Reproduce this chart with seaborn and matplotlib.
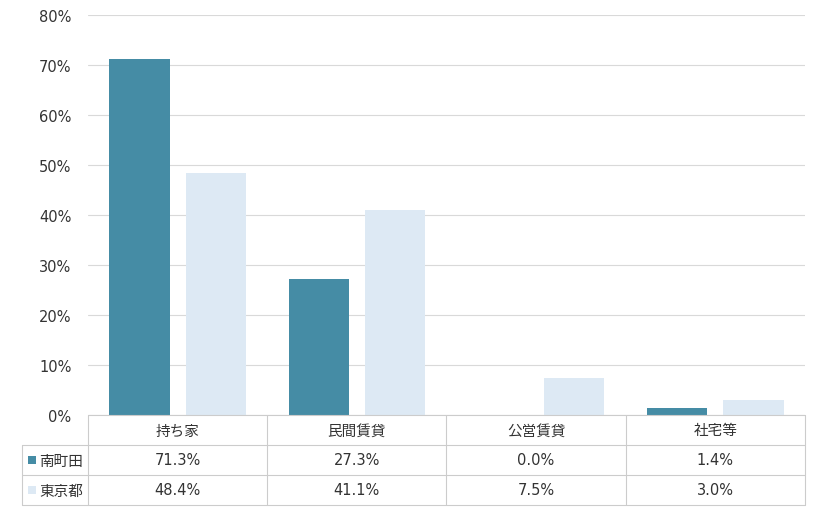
import matplotlib
matplotlib.use('Agg')
import matplotlib.pyplot as plt
import matplotlib.transforms as mtransforms
from matplotlib.patches import Rectangle
import pandas as pd
import seaborn as sns

categories = ['持ち家', '民間賃貸', '公営賃貸', '社宅等']
areas = ['南町田', '東京都']
minamimachida = [71.3, 27.3, 0.0, 1.4]
tokyo = [48.4, 41.1, 7.5, 3.0]
colors = ['#458CA5', '#DDE9F4']

df = pd.DataFrame({
    'category': categories * 2,
    'area': [areas[0]] * 4 + [areas[1]] * 4,
    'value': minamimachida + tokyo,
})

sns.set_style('white')
# Verdana-like digits, CJK glyphs from Noto
plt.rcParams['font.family'] = ['DejaVu Sans', 'Noto Sans CJK JP']

fig = plt.figure(figsize=(8.2, 5.1), dpi=100)
ax = fig.add_axes([88 / 820, 1 - 416 / 510, 717 / 820, 400 / 510])

sns.barplot(data=df, x='category', y='value', hue='area', palette=colors,
            width=0.85, gap=0.21, ax=ax, legend=False, saturation=1,
            linewidth=0)

ax.set_xlim(-0.5, 3.5)
ax.set_ylim(0, 80)
ax.set_yticks(range(0, 81, 10))
ax.set_yticklabels([f'{v}%' for v in range(0, 81, 10)], fontsize=10.5, color='#333333')
ax.tick_params(axis='y', length=0, pad=12)
ax.set_xticks([])
ax.set_xlabel('')
ax.set_ylabel('')
ax.yaxis.grid(True, color='#D9D9D9', linewidth=0.8)
ax.set_axisbelow(True)
for s in ax.spines.values():
    s.set_visible(False)

# data table under the chart
trans = mtransforms.blended_transform_factory(ax.transData, ax.transAxes)
line_kw = dict(color='#CCCCCC', linewidth=0.8, transform=trans, clip_on=False)
row_h = 0.075
left_x = -0.868

ax.plot([-0.5, 3.5], [0, 0], **line_kw)
for i in (1, 2, 3):
    ax.plot([left_x, 3.5], [-row_h * i, -row_h * i], **line_kw)
for xv in (-0.5, 0.5, 1.5, 2.5, 3.5):
    ax.plot([xv, xv], [0, -row_h * 3], **line_kw)
ax.plot([left_x, left_x], [-row_h, -row_h * 3], **line_kw)

txt = dict(transform=trans, va='center', fontsize=10.5, color='#333333')
for i, cat in enumerate(categories):
    ax.text(i, -row_h * 0.5, cat, ha='center', **txt)
    ax.text(i, -row_h * 1.5, f'{minamimachida[i]:.1f}%', ha='center', **txt)
    ax.text(i, -row_h * 2.5, f'{tokyo[i]:.1f}%', ha='center', **txt)

for r, (name, col) in enumerate(zip(areas, colors)):
    yc = -row_h * (1.5 + r)
    ax.add_patch(Rectangle((left_x + 0.035, yc - 0.011), 0.045, 0.022,
                           facecolor=col, edgecolor='none', transform=trans,
                           clip_on=False))
    ax.text(left_x + 0.095, yc, name, ha='left', **txt)

fig.savefig('out.png', dpi=100)
